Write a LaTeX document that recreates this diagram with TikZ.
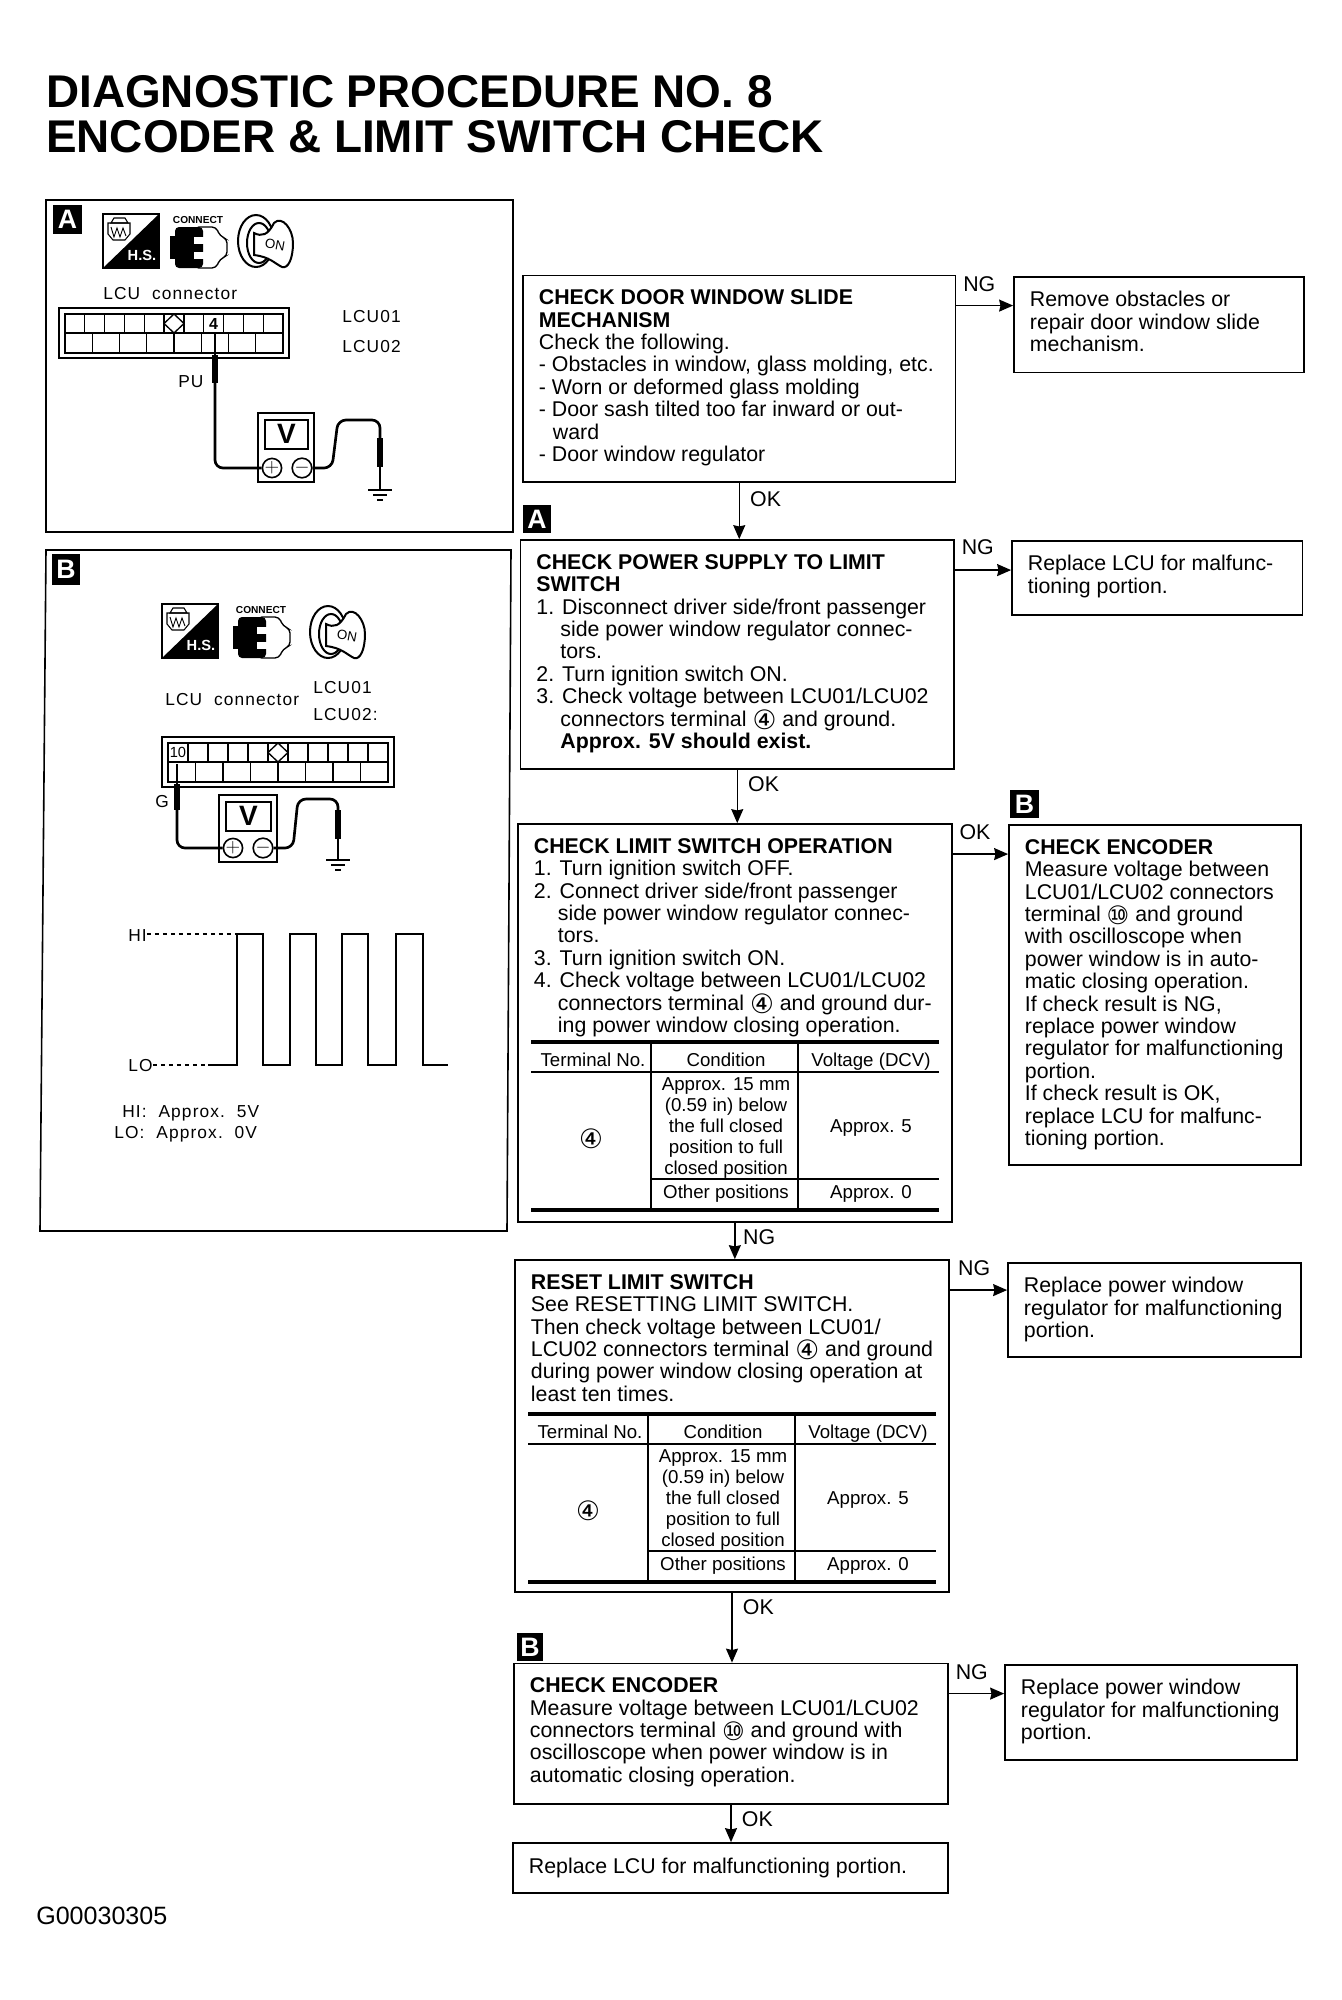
\documentclass[tikz,border=0pt]{standalone}
\usepackage{fontspec}
\setmainfont{Liberation Sans}
\newfontfamily\widefont[LetterSpace=6.5]{Liberation Sans}
\newfontfamily\symfont{DejaVu Sans}
\usepackage{tikz}
\usetikzlibrary{arrows.meta, positioning, fit}
\tikzstyle{flowblock} = [rectangle, draw=black, line width=1.3pt, inner sep=0pt]
\tikzstyle{blocktext} = [anchor=north west, align=left, inner xsep=12.4pt, inner ysep=11.2pt,
    font=\fontsize{16}{16.8}\selectfont, execute at begin node=\strut]
\tikzstyle{flowlabel} = [inner sep=0pt, font=\fontsize{16}{16.8}\selectfont]
\tikzstyle{arrow}     = [-{Stealth[length=10.5pt,width=9pt,inset=1pt]}, line width=1.1pt]
\tikzstyle{tagbox}    = [fill=black, text=white, inner sep=0pt, minimum size=21.5pt,
    font=\fontsize{20}{20}\selectfont\bfseries]
\tikzstyle{titletext} = [anchor=base west, inner sep=0pt, font=\fontsize{34.4}{36}\selectfont\bfseries]
\tikzstyle{celltext}  = [inner sep=0pt, align=center, font=\fontsize{14}{15.75}\selectfont]
\tikzstyle{lcutext}   = [anchor=base west, inner sep=0pt, font=\fontsize{13}{15}\widefont]
\tikzstyle{panel}     = [line width=1.2pt]
\tikzstyle{wire}      = [line width=2pt, rounded corners=6pt]
\tikzstyle{probe}     = [line width=4.5pt]
\tikzstyle{terminal}  = [circle, draw=black, line width=1.2pt, inner sep=0pt, minimum size=11.5pt,
    font=\fontsize{15}{15}\selectfont]
\newcommand{\fourmark}{\smash{\raisebox{-2.4pt}{\symfont\fontsize{20}{16.8}\selectfont ④}}}
\newcommand{\tenmark}{\smash{\raisebox{-2.2pt}{\symfont\fontsize{19}{16.8}\selectfont ⑩}}}
% table under the voltage checks
\newcommand{\resulttable}[2]{
  \begin{scope}[shift={#1}]
    \draw[line width=3pt] (0,0) -- (408,0);
    \draw[line width=1.3pt] (0,30) -- (408,30);
    \draw[line width=1.1pt] (120,137) -- (408,137);
    \draw[line width=3pt] (0,168) -- (408,168);
    \draw[line width=1.1pt] (120,0) -- (120,168);
    \draw[line width=1.1pt] (267,0) -- (267,168);
    \node[celltext, execute at begin node=\strut] (#2term) at (62,20) {Terminal No.};
    \node[celltext, execute at begin node=\strut] (#2cond) at (195,20) {Condition};
    \node[celltext, execute at begin node=\strut] (#2volt) at (340,20) {Voltage (DCV)};
    \node[celltext] (#2four) at (60,103) {\fourmark};
    \node[celltext] (#2near) at (195,86) {Approx. 15 mm\\(0.59 in) below\\the full closed\\position to full\\closed position};
    \node[celltext] (#2five) at (340,86) {Approx. 5};
    \node[celltext] (#2other) at (195,152) {Other positions};
    \node[celltext] (#2zero) at (340,152) {Approx. 0};
  \end{scope}}
% icons above the connector
\newcommand{\hsicon}[2]{
  \begin{scope}[shift={#1}]
    \draw[fill=white, line width=1pt] (0,0) rectangle (56,54);
    \fill (0,54) -- (56,0) -- (56,54) -- cycle;
    \node[inner sep=0pt, text=white, font=\fontsize{11}{11}\selectfont\bfseries] (#2hs) at (39,41) {H.S.};
    \draw[line width=.8pt] (8,9) -- (11,4) -- (22,4) -- (25,9) -- cycle;
    \draw[line width=.8pt] (5,9) -- (27,9) -- (27,20) -- (22,26) -- (10,26) -- (5,20) -- cycle;
    \draw[line width=.7pt] (8,13) -- (11,23) -- (14,14) -- (17,23) -- (20,14) -- (23,22);
  \end{scope}}
\newcommand{\connecticon}[2]{
  \begin{scope}[shift={#1}]
    \node[inner sep=0pt, font=\fontsize{7.6}{8}\selectfont\bfseries] (#2con) at (28,-7) {CONNECT};
    \draw[line width=1pt, fill=white, rounded corners=3pt] (25,0) -- (46,0) -- (50,9) -- (57,12) -- (57,29) -- (50,32) -- (46,41) -- (25,41) -- cycle;
    \fill[rounded corners=3pt] (5,0) rectangle (33,41);
    \fill (0,9) rectangle (7,32);
    \fill[white] (24,10) rectangle (34,17);
    \fill[white] (24,25) rectangle (34,32);
  \end{scope}}
\newcommand{\keyicon}[2]{
  \begin{scope}[shift={#1}]
    \draw[line width=1.5pt] (18,26) ellipse [x radius=18, y radius=26];
    \draw[line width=1.5pt] (21,28) ellipse [x radius=12, y radius=20];
    \draw[line width=1.5pt, fill=white] (16,18) .. controls (24,22) and (30,20) .. (36,8) .. controls (44,0) and (55,14) .. (55,28) .. controls (55,44) and (50,54) .. (44,52) .. controls (36,48) and (32,42) .. (16,40) -- cycle;
    \node[inner sep=0pt, rotate=-10, font=\fontsize{10}{10}\selectfont] (#2key) at (37,30) {ON};
  \end{scope}}
% connector face, 11 upper and 8 lower cells
\newcommand{\lcuplug}[3]{
  \begin{scope}[shift={#1}]
    \draw[line width=1.3pt] (0,0) rectangle (#3,50);
    \draw[line width=1.3pt] (6,6) rectangle (#3-6,45);
    \draw[line width=1pt] (6,25) -- (#3-6,25);
    \foreach \cellno in {1,...,10}
      \draw[line width=1pt] ({6+\cellno*(#3-12)/11},6) -- ++(0,19);
    \foreach \cellno in {1,...,7}
      \draw[line width=1pt] ({6+\cellno*(#3-12)/8},25) -- ++(0,20);
    \draw[line width=1pt, fill=white] ({6+5.5*(#3-12)/11},6) -- ++(10,9.5) -- ++(-10,9.5) -- ++(-10,-9.5) -- cycle;
    \coordinate (#2one) at ({6+.5*(#3-12)/11},15.5);
    \coordinate (#2four) at ({6+7.5*(#3-12)/11},15.5);
  \end{scope}}
\newcommand{\voltmeter}[4]{
  \begin{scope}[shift={#1}]
    \draw[line width=1.3pt] (0,0) rectangle (#3,#4);
    \draw[line width=1.3pt] (7,7) rectangle (#3-6,36);
    \node[inner sep=0pt, font=\fontsize{21}{21}\selectfont\bfseries] (#2v) at ({(#3+1)/2},21) {V};
    \node[terminal] (#2plus) at (14,{#4-14}) {$+$};
    \node[terminal] (#2minus) at (44,{#4-14}) {$-$};
  \end{scope}}
\newcommand{\groundsym}[1]{
  \begin{scope}[shift={#1}]
    \draw[line width=1.3pt] (-12,0) -- (12,0);
    \draw[line width=1.3pt] (-7,5) -- (7,5);
    \draw[line width=1.3pt] (-3,10) -- (3,10);
  \end{scope}}

\begin{document}
\begin{tikzpicture}[x=0.75pt, y=-0.75pt]
  \useasboundingbox (0,0) rectangle (1342,2000);
  \fill[white] (0,0) rectangle (1342,2000);

  \node[titletext] (title1) at (46,107.5) {DIAGNOSTIC PROCEDURE NO. 8};
  \node[titletext] (title2) at (46,152.5) {ENCODER \& LIMIT SWITCH CHECK};
  \node[lcutext, font=\fontsize{18.8}{20}\selectfont] (figno) at (36,1924) {G00030305};

  % panel A
  \draw[panel] (46,200) rectangle (513,532);
  \node[tagbox] (panA) at (67.5,219.5) {A};
  \hsicon{(103,214)}{a}
  \connecticon{(170,227)}{a}
  \keyicon{(238,215)}{a}
  \node[lcutext] (alcu) at (103,299) {LCU\ \ connector};
  \lcuplug{(59,308)}{a}{230}
  \node[inner sep=0pt, font=\fontsize{12}{12}\selectfont\bfseries] (afour) at (afour) {4};
  \node[lcutext] (alcu1) at (342,322) {LCU01};
  \node[lcutext] (alcu2) at (342,352) {LCU02};
  \node[lcutext] (apu) at (178,387) {PU};
  \voltmeter{(258,413)}{am}{56}{69}
  \coordinate (atip) at (215,333);
  \coordinate (abot) at (215,383);
  \coordinate (aneg) at (380,438);
  \coordinate (agnd) at (380,490);
  \draw[line width=2pt] (atip) -- (abot);
  \draw[probe] (215,355) -- (abot);
  \draw[wire] (abot) |- (amplus.west);
  \draw[wire] (amminus.east) -- (332,468) -- (338,420) -- (380,420) -- (aneg);
  \draw[probe] (aneg) -- (380,467);
  \draw[line width=2pt] (380,467) -- (agnd);
  \groundsym{(agnd)}

  % panel B
  \draw[panel] (46,550) -- (511,550) -- (507,1231) -- (40,1231) -- cycle;
  \node[tagbox, minimum height=23pt] (panB) at (66,569.5) {B};
  \hsicon{(162,604)}{b}
  \connecticon{(233,617)}{b}
  \keyicon{(310,606)}{b}
  \node[lcutext] (blcu) at (165,705) {LCU\ \ connector};
  \node[lcutext] (blcu1) at (313,693) {LCU01};
  \node[lcutext] (blcu2) at (313,720) {LCU02:};
  \lcuplug{(162,737)}{b}{232}
  \node[inner sep=0pt, font=\fontsize{11}{11}\selectfont] (bten) at (bone) {10};
  \node[lcutext] (bg) at (155,807) {G};
  \voltmeter{(219,795)}{bm}{58}{67}
  \coordinate (btip) at (177,764);
  \coordinate (bbot) at (177,810);
  \coordinate (bneg) at (338,810);
  \coordinate (bgnd) at (338,860);
  \draw[line width=2pt] (btip) -- (bbot);
  \draw[probe] (177,784) -- (bbot);
  \draw[wire] (bbot) |- (bmplus.west);
  \draw[wire] (bmminus.east) -- (293,848) -- (298,799) -- (338,799) -- (bneg);
  \draw[probe] (bneg) -- (338,839);
  \draw[line width=2pt] (338,839) -- (bgnd);
  \groundsym{(bgnd)}

  % pulse train
  \node[lcutext, anchor=base west] (hilab) at (128,941) {HI};
  \node[lcutext, anchor=base west] (lolab) at (128,1071) {LO};
  \coordinate (hifirst) at (237,934);
  \coordinate (lofirst) at (208,1065);
  \draw[dashed, line width=.8pt] (hilab.east |- hifirst) -- (hifirst);
  \draw[dashed, line width=.8pt] (lolab.east |- lofirst) -- (lofirst);
  \draw[line width=2pt] (lofirst) -- (237,1065) -- (hifirst) -- (263,934) -- (263,1065) -- (290,1065) -- (290,934) -- (316,934) -- (316,1065) -- (342,1065) -- (342,934) -- (368,934) -- (368,1065) -- (396,1065) -- (396,934) -- (423,934) -- (423,1065) -- (448,1065);
  \node[lcutext] (hival) at (122,1117) {HI:\ \ Approx.\ \ 5V};
  \node[lcutext] (loval) at (114,1138) {LO:\ \ Approx.\ \ 0V};

  % main flow
  \node[flowblock, fit={(523,275.5) (955.5,482)}] (chk1) {};
  \node[flowblock, fit={(520.5,540) (954,769)}] (chk2) {};
  \node[flowblock, fit={(518,824) (951.7,1222)}] (chk3) {};
  \node[flowblock, fit={(515,1260) (949,1592)}] (chk4) {};
  \node[flowblock, fit={(514,1663.5) (948,1804)}] (chk5) {};
  \node[flowblock, fit={(513,1843) (948,1893)}] (chk6) {};
  % right column
  \node[flowblock, fit={(1014,277) (1304,372.5)}] (rep1) {};
  \node[flowblock, fit={(1012,541) (1302.5,615)}] (rep2) {};
  \node[flowblock, fit={(1009,825) (1301,1165)}] (enc1) {};
  \node[flowblock, fit={(1008,1263) (1301,1357)}] (rep4) {};
  \node[flowblock, fit={(1005,1665) (1297,1760)}] (rep5) {};

  \node[blocktext] (chk1txt) at (chk1.north west) {\textbf{CHECK DOOR WINDOW SLIDE}\\\textbf{MECHANISM}\\Check the following.\\- Obstacles in window, glass molding, etc.\\- Worn or deformed glass molding\\- Door sash tilted too far inward or out-\\\hspace*{10.5pt}ward\\- Door window regulator};
  \node[blocktext] (chk2txt) at (chk2.north west) {\textbf{CHECK POWER SUPPLY TO LIMIT}\\\textbf{SWITCH}\\1. Disconnect driver side/front passenger\\\hspace*{18pt}side power window regulator connec-\\\hspace*{18pt}tors.\\2. Turn ignition switch ON.\\3. Check voltage between LCU01/LCU02\\\hspace*{18pt}connectors terminal \fourmark\ and ground.\\\hspace*{18pt}\textbf{Approx. 5V should exist.}};
  \node[blocktext] (chk3txt) at (chk3.north west) {\textbf{CHECK LIMIT SWITCH OPERATION}\\1. Turn ignition switch OFF.\\2. Connect driver side/front passenger\\\hspace*{18pt}side power window regulator connec-\\\hspace*{18pt}tors.\\3. Turn ignition switch ON.\\4. Check voltage between LCU01/LCU02\\\hspace*{18pt}connectors terminal \fourmark\ and ground dur-\\\hspace*{18pt}ing power window closing operation.};
  \node[blocktext] (chk4txt) at (chk4.north west) {\textbf{RESET LIMIT SWITCH}\\See RESETTING LIMIT SWITCH.\\Then check voltage between LCU01/\\LCU02 connectors terminal \fourmark\ and ground\\during power window closing operation at\\least ten times.};
  \node[blocktext] (chk5txt) at (chk5.north west) {\textbf{CHECK ENCODER}\\Measure voltage between LCU01/LCU02\\connectors terminal \tenmark\ and ground with\\oscilloscope when power window is in\\automatic closing operation.};
  \node[blocktext] (chk6txt) at (chk6.north west) {Replace LCU for malfunctioning portion.};
  \node[blocktext] (rep1txt) at (rep1.north west) {Remove obstacles or\\repair door window slide\\mechanism.};
  \node[blocktext] (rep2txt) at (rep2.north west) {Replace LCU for malfunc-\\tioning portion.};
  \node[blocktext] (enc1txt) at (enc1.north west) {\textbf{CHECK ENCODER}\\Measure voltage between\\LCU01/LCU02 connectors\\terminal \tenmark\ and ground\\with oscilloscope when\\power window is in auto-\\matic closing operation.\\If check result is NG,\\replace power window\\regulator for malfunctioning\\portion.\\If check result is OK,\\replace LCU for malfunc-\\tioning portion.};
  \node[blocktext] (rep4txt) at (rep4.north west) {Replace power window\\regulator for malfunctioning\\portion.};
  \node[blocktext] (rep5txt) at (rep5.north west) {Replace power window\\regulator for malfunctioning\\portion.};

  \resulttable{(531,1042)}{ta}
  \resulttable{(528,1414)}{tb}

  \node[tagbox] (flowA) at (537,519) {A};
  \node[tagbox] (flowB1) at (1024.5,804) {B};
  \node[tagbox, minimum width=19pt] (flowB2) at (530,1647) {B};

  % connectors down the page
  \draw[arrow] (chk1.south) -- (chk1.south |- chk2.north);
  \draw[arrow] (chk2.south) -- (chk2.south |- chk3.north);
  \draw[arrow] (chk3.south) -- (chk3.south |- chk4.north);
  \draw[arrow] (chk4.south) -- (chk4.south |- chk5.north);
  \draw[arrow] (chk5.south) -- (chk5.south |- chk6.north);
  % connectors to the side
  \foreach \from/\to in {chk1/rep1, chk2/rep2, chk3/enc1, chk4/rep4, chk5/rep5}
    \draw[arrow] ([yshift=-23.2pt]\from.north east) -- ([yshift=-23.2pt]\from.north east -| \to.west);

  \node[flowlabel, below right=6.5pt and 8pt of chk1.south] (okdown1) {OK};
  \node[flowlabel, below right=5pt and 8pt of chk2.south] (okdown2) {OK};
  \node[flowlabel, below right=5pt and 6pt of chk3.south] (ngdown3) {NG};
  \node[flowlabel, below right=5pt and 8pt of chk4.south] (okdown4) {OK};
  \node[flowlabel, below right=5pt and 8pt of chk5.south] (okdown5) {OK};
  \node[flowlabel, below right=1.5pt and 5pt of chk1.north east] (ngside1) {NG};
  \node[flowlabel, below right=0pt and 5pt of chk2.north east] (ngside2) {NG};
  \node[flowlabel, below right=1pt and 5pt of chk3.north east] (okside3) {OK};
  \node[flowlabel, below right=1pt and 6pt of chk4.north east] (ngside4) {NG};
  \node[flowlabel, below right=1pt and 5pt of chk5.north east] (ngside5) {NG};
\end{tikzpicture}
\end{document}
